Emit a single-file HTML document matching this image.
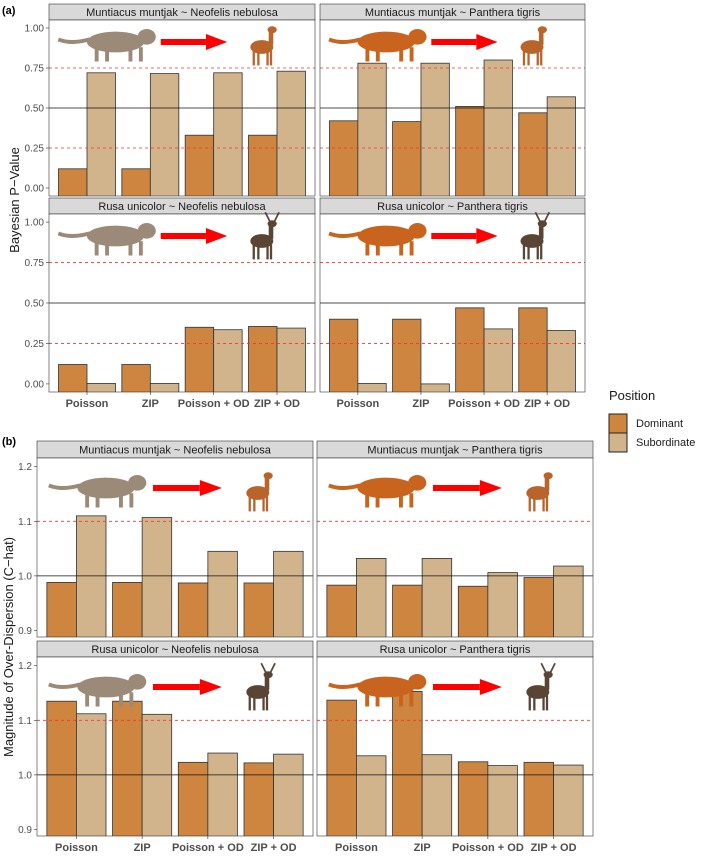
<!DOCTYPE html>
<html><head><meta charset="utf-8"><style>
body{margin:0;background:#fff}
svg{display:block;font-family:"Liberation Sans",sans-serif}
</style></head><body>
<svg id="chart" width="709" height="857" viewBox="0 0 709 857"></svg>
<script>
const categories=["Poisson","ZIP","Poisson + OD","ZIP + OD"];
const facetTitles=["Muntiacus muntjak ~ Neofelis nebulosa","Muntiacus muntjak ~ Panthera tigris","Rusa unicolor ~ Neofelis nebulosa","Rusa unicolor ~ Panthera tigris"];
const aDom=[[0.12,0.12,0.33,0.33],[0.42,0.415,0.51,0.47],[0.12,0.12,0.35,0.355],[0.40,0.40,0.47,0.47]];
const aSub=[[0.72,0.715,0.72,0.73],[0.78,0.78,0.80,0.57],[0.003,0.003,0.335,0.345],[0.003,0.0,0.34,0.33]];
const bDom=[[0.988,0.988,0.987,0.987],[0.983,0.983,0.981,0.997],[1.135,1.135,1.023,1.022],[1.137,1.153,1.024,1.023]];
const bSub=[[1.11,1.107,1.045,1.045],[1.032,1.032,1.006,1.018],[1.112,1.111,1.04,1.038],[1.035,1.037,1.017,1.018]];
const aTicks=[0,0.25,0.5,0.75,1];
const aTickLabels=["0.00","0.25","0.50","0.75","1.00"];
const bTicks=[0.9,1.0,1.1,1.2];
const bTickLabels=["0.9","1.0","1.1","1.2"];
const predators=["leopard","tiger","leopard","tiger"];
const preys=["muntjac","muntjac","sambar","sambar"];

const svg=document.getElementById('chart');
const NS="http://www.w3.org/2000/svg";
function mk(tag,attrs,parent){const e=document.createElementNS(NS,tag);for(const k in attrs)e.setAttribute(k,attrs[k]);(parent||svg).appendChild(e);return e;}
const DOM="#cd853f",SUB="#d2b48c";

function drawAnimal(kind,cx,cy,parent,sc){
  const g=mk('g',{transform:`translate(${cx},${cy}) scale(${sc})`},parent);
  if(kind==="leopard"||kind==="tiger"){
    const c=kind==="tiger"?"#c8641e":"#9c8a78";
    mk('ellipse',{cx:0,cy:0,rx:22,ry:8,fill:c},g);
    mk('ellipse',{cx:24,cy:-4,rx:7,ry:6,fill:c},g);
    mk('path',{d:`M-20 -2 Q-34 2 -44 -2`,stroke:c,'stroke-width':3,fill:'none'},g);
    for(const dx of [-16,-8,10,18])mk('rect',{x:dx,y:4,width:3,height:11,fill:c},g);
  }else{
    const c=kind==="sambar"?"#5a4535":"#b8642a";
    mk('ellipse',{cx:0,cy:0,rx:10,ry:6,fill:c},g);
    mk('rect',{x:6,y:-14,width:4,height:12,fill:c},g);
    mk('ellipse',{cx:9,cy:-15,rx:4,ry:3,fill:c},g);
    for(const dx of [-8,-4,4,7])mk('rect',{x:dx,y:3,width:2,height:13,fill:c},g);
    if(kind==="sambar"){mk('path',{d:`M7 -17 l-4 -8 M11 -17 l4 -8`,stroke:c,'stroke-width':1.5},g);}
  }
}

function panel(x0,x1,top,bot,stripTop,ymin,ymax,ticks,tickLabels,dom,sub,refs,i,showY,showX,name){
  const g=mk('g',{});
  
  
  const y=v=>bot-(v-ymin)/(ymax-ymin)*(bot-top);
  const unit=(x1-x0)/4.2;
  const xc=k=>x0+(0.6+k)*unit;
  const bw=unit*0.45;
  mk('rect',{x:x0,y:stripTop,width:x1-x0,height:top-stripTop,fill:'#d9d9d9',stroke:'#333','stroke-width':0.6},g);
  const st=mk('text',{x:(x0+x1)/2,y:stripTop+(top-stripTop)/2+4,'text-anchor':'middle','font-size':11,fill:'#1a1a1a'},g);
  st.textContent=facetTitles[i];
  
  
  mk('rect',{x:x0,y:top,width:x1-x0,height:bot-top,fill:'#fff'},g);
  const cp='cp'+name;
  const cl=mk('clipPath',{id:cp},g);mk('rect',{x:x0,y:top,width:x1-x0,height:bot-top},cl);
  const bars=mk('g',{'clip-path':`url(#${cp})`},g);
  for(let k=0;k<4;k++){
    const r1=mk('rect',{x:xc(k)-bw,y:y(dom[k]),width:bw,height:Math.max(0,y(ymin)+10-y(dom[k])),fill:DOM,stroke:'#333','stroke-width':0.8},bars);
    
    
    const r2=mk('rect',{x:xc(k),y:y(sub[k]),width:bw,height:Math.max(0,y(ymin)+10-y(sub[k])),fill:SUB,stroke:'#333','stroke-width':0.8},bars);
    
    
  }
  mk('line',{x1:x0,x2:x1,y1:y(refs[0]),y2:y(refs[0]),stroke:'#111','stroke-width':0.8},g);
  for(const r of refs.slice(1))mk('line',{x1:x0,x2:x1,y1:y(r),y2:y(r),stroke:'#ff3030','stroke-width':0.8,'stroke-dasharray':'3,3'},g);
  const w=x1-x0;
  const ay=top+(refs.length>2?22:30);
  drawAnimal(predators[i],x0+w*0.25,ay,g,1.3);
  mk('rect',{x:x0+w*0.42,y:ay-3,width:w*0.17,height:6,fill:'#f00'},g);
  mk('polygon',{points:`${x0+w*0.59},${ay-8} ${x0+w*0.67},${ay} ${x0+w*0.59},${ay+8}`,fill:'#f00'},g);
  drawAnimal(preys[i],x0+w*0.8,ay+5,g,1.15);
  mk('rect',{x:x0,y:top,width:w,height:bot-top,fill:'none',stroke:'#333','stroke-width':0.6},g);
  if(showY){
    ticks.forEach((t,j)=>{
      mk('line',{x1:x0-3,x2:x0,y1:y(t),y2:y(t),stroke:'#333','stroke-width':0.6},g);
      const tl=mk('text',{x:x0-5,y:y(t)+3.5,'text-anchor':'end','font-size':10,fill:'#4d4d4d'},g);
      tl.textContent=tickLabels[j];
    });
  }
  if(showX){
    categories.forEach((c,k)=>{
      mk('line',{x1:xc(k),x2:xc(k),y1:bot,y2:bot+3,stroke:'#333','stroke-width':0.6},g);
      const tl=mk('text',{x:xc(k),y:bot+15,'text-anchor':'middle','font-size':11,'font-weight':'bold',fill:'#4d4d4d'},g);
      tl.textContent=c;
    });
  }
}
// (a)
panel(49,315,20,196,4,-0.05,1.05,aTicks,aTickLabels,aDom[0],aSub[0],[0.5,0.75,0.25],0,true,false,'a-tl');
panel(320,585,20,196,4,-0.05,1.05,aTicks,aTickLabels,aDom[1],aSub[1],[0.5,0.75,0.25],1,false,false,'a-tr');
panel(49,315,214,392,198,-0.05,1.05,aTicks,aTickLabels,aDom[2],aSub[2],[0.5,0.75,0.25],2,true,true,'a-bl');
panel(320,585,214,392,198,-0.05,1.05,aTicks,aTickLabels,aDom[3],aSub[3],[0.5,0.75,0.25],3,false,true,'a-br');
// (b)
panel(37,313,458,637,441,0.888,1.216,bTicks,bTickLabels,bDom[0],bSub[0],[1.0,1.1],0,true,false,'b-tl');
panel(317,593,458,637,441,0.888,1.216,bTicks,bTickLabels,bDom[1],bSub[1],[1.0,1.1],1,false,false,'b-tr');
panel(37,313,657,836,641,0.888,1.216,bTicks,bTickLabels,bDom[2],bSub[2],[1.0,1.1],2,true,true,'b-bl');
panel(317,593,657,836,641,0.888,1.216,bTicks,bTickLabels,bDom[3],bSub[3],[1.0,1.1],3,false,true,'b-br');

function txt(s,attrs,name){const t=mk('text',attrs);t.textContent=s;return t;}
txt('(a)',{x:2,y:14,'font-size':11,'font-weight':'bold'},'panel-a-label');
txt('(b)',{x:2,y:445,'font-size':11,'font-weight':'bold'},'panel-b-label');
txt('Bayesian P\u2212Value',{x:0,y:0,transform:'translate(19,200) rotate(-90)','text-anchor':'middle','font-size':13,fill:'#1a1a1a'},'y-axis-title-a');
txt('Magnitude of Over-Dispersion (C\u2212hat)',{x:0,y:0,transform:'translate(13,647) rotate(-90)','text-anchor':'middle','font-size':13,fill:'#1a1a1a'},'y-axis-title-b');
// legend
txt('Position',{x:609,y:400,'font-size':13,fill:'#1a1a1a'},'legend-title');
const k1=mk('rect',{x:609,y:414,width:18,height:19,fill:DOM,stroke:'#222','stroke-width':1});

const k2=mk('rect',{x:609,y:433,width:18,height:19,fill:SUB,stroke:'#222','stroke-width':1});

txt('Dominant',{x:636,y:427,'font-size':11,fill:'#1a1a1a'},'legend-label-dominant');
txt('Subordinate',{x:636,y:446,'font-size':11,fill:'#1a1a1a'},'legend-label-subordinate');
</script>
</body></html>
